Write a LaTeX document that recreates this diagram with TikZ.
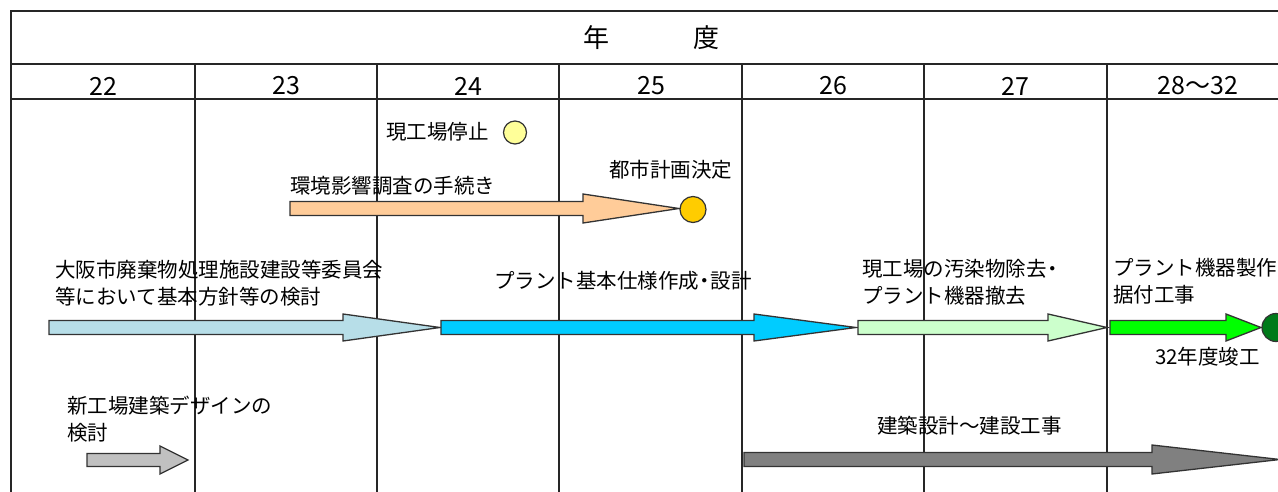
\documentclass[tikz,border=0pt]{standalone}
\usepackage{fontspec}
\setmainfont{Noto Sans CJK JP}
\newcommand\nakaguro{\hspace{-4.5pt}・\hspace{-4.5pt}}
\begin{document}
\tikzset{
  gridline/.style={draw=black!85, line width=1.6pt},
  lbl/.style={font=\fontsize{20.5}{27}\selectfont, inner sep=0pt, anchor=west, align=left},
  yr/.style={font=\fontsize{25}{30}\selectfont, inner sep=0pt},
  marker/.style={circle, draw=black!80, line width=1.2pt, inner sep=0pt},
  barr/.style={draw=black!80, line width=1.3pt, line join=miter}
}
\definecolor{cYellow}{HTML}{FFFF99}
\definecolor{cPeach}{HTML}{FFCC99}
\definecolor{cGold}{HTML}{FFCC00}
\definecolor{cLBlue}{HTML}{B7DEE8}
\definecolor{cBlue}{HTML}{00CCFF}
\definecolor{cLGreen}{HTML}{CCFFCC}
\definecolor{cGreen}{HTML}{00FF00}
\definecolor{cDGreen}{HTML}{007A1A}
\definecolor{cGray}{HTML}{C0C0C0}
\definecolor{cDGray}{HTML}{808080}
\newcommand\blockarr[7]{%
  \draw[barr, fill=#1] ({#2},{#5-#6}) -- ({#3},{#5-#6}) -- ({#3},{#5-#7}) -- ({#4},{#5})
    -- ({#3},{#5+#7}) -- ({#3},{#5+#6}) -- ({#2},{#5+#6}) -- cycle;}
\begin{tikzpicture}[x=1pt,y=-1pt]
\useasboundingbox (0,0) rectangle (1278,492);
\clip (0,0) rectangle (1278,492);
\fill[white] (0,0) rectangle (1278,492);
% table
\draw[gridline] (1290,11) -- (11,11) -- (11,500);
\draw[gridline, line width=2.2pt] (11,64) -- (1290,64);
\draw[gridline, line width=1.4pt] (11,99) -- (1290,99);
\foreach \x in {195,377,559,742,924,1107} \draw[gridline] (\x,64) -- (\x,500);
% header
\node[font=\fontsize{26}{30}\selectfont, inner sep=0pt] (hdr) at (651,38) {年\hspace{84pt}度};
\node[yr] (y22) at (103,86) {22};
\node[yr] (y23) at (286,86) {23};
\node[yr] (y24) at (468,86) {24};
\node[yr] (y25) at (651,86) {25};
\node[yr] (y26) at (833,86) {26};
\node[yr] (y27) at (1015,86) {27};
\node[yr] (y28) at (1198,86) {28～32};
% arrows
\blockarr{cPeach}{290}{583}{679}{208.5}{7}{14.5}
\blockarr{cLBlue}{49}{343}{440}{327.5}{7}{13.5}
\blockarr{cBlue}{441}{754}{856}{327.5}{7}{13.5}
\blockarr{cLGreen}{858}{1048}{1107}{327.5}{7}{13.5}
\blockarr{cGreen}{1110}{1226}{1261}{327.5}{7}{13.5}
\blockarr{cGray}{87}{160}{188}{460}{6.5}{14}
\blockarr{cDGray}{744}{1152}{1280}{459.5}{7}{14.5}
% markers
\node[marker, fill=cYellow, minimum size=23pt] (stop) at (515,132.5) {};
\node[marker, fill=cGold, minimum size=26pt] (plan) at (693,209.5) {};
\node[marker, fill=cDGreen, minimum size=28pt] (done) at (1276,327.5) {};
% labels
\node[lbl] (t1) at (386,132) {現工場停止};
\node[lbl] (t2) at (290,186) {環境影響調査の手続き};
\node[lbl] (t3) at (609,170) {都市計画決定};
\node[lbl] (t4) at (55,283) {大阪市廃棄物処理施設建設等委員会\\等において基本方針等の検討};
\node[lbl] (t5) at (494,281) {プラント基本仕様作成\nakaguro 設計};
\node[lbl] (t6) at (862,282) {現工場の汚染物除去\nakaguro\\プラント機器撤去};
\node[lbl] (t7) at (1113,281) {プラント機器製作\nakaguro\\据付工事};
\node[lbl] (t8) at (1155,357) {32年度竣工};
\node[lbl] (t9) at (67,419) {新工場建築デザインの\\検討};
\node[lbl] (t10) at (877,426) {建築設計～建設工事};
\end{tikzpicture}
\end{document}
